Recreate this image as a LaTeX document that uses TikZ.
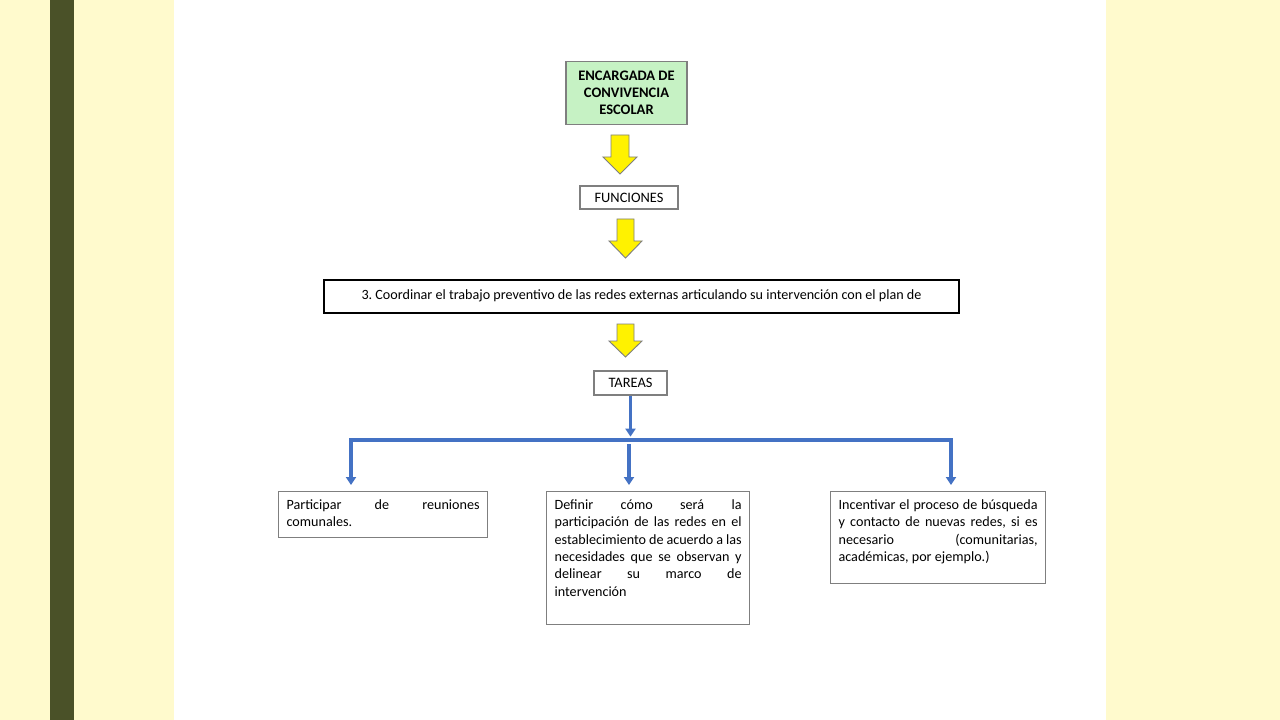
\documentclass[tikz,border=0pt]{standalone}
\usepackage{fontspec}
\setmainfont{Carlito}
\usetikzlibrary{arrows.meta}
\definecolor{bgyel}{HTML}{FFFACD}
\definecolor{olive}{HTML}{4A5128}
\definecolor{boxgreen}{HTML}{C6F2C4}
\definecolor{myblue}{HTML}{4472C4}
\definecolor{bordergray}{HTML}{7F7F7F}
\newcommand{\taskpar}[3]{\parbox[c][#2][t]{#1}{\frenchspacing\hyphenpenalty=10000 #3}}
\tikzset{
  px/.style={x=0.75pt,y=-0.75pt},
  plainbox/.style={draw=bordergray, line width=0.9pt, fill=white, inner sep=0pt, font=\fontsize{10.8}{13}\selectfont},
  taskbox/.style={draw=bordergray, line width=0.9pt, fill=white, anchor=north west, inner xsep=6pt, inner ysep=6pt,
     font=\fontsize{10.6}{13}\selectfont},
  yarrow/.style={fill=yellow, draw=bordergray, line width=0.7pt, line join=miter},
  bline/.style={draw=myblue, line width=2.3pt},
  barrow/.style={draw=myblue, line width=2.3pt, -{Triangle[width=7.5pt,length=6pt]}},
}
\begin{document}
\begin{tikzpicture}[px]
\useasboundingbox (0,0) rectangle (1280,720);
\fill[bgyel] (0,0) rectangle (1280,720);
\fill[olive] (50,0) rectangle (74,720);
\fill[white] (174,0) rectangle (1106,720);

% green box
\node[plainbox, fill=boxgreen, minimum width={121*0.75pt}, minimum height={63*0.75pt}, align=center,
  font=\bfseries\fontsize{10.9}{12.8}\selectfont] (enc) at (626.5,93) {ENCARGADA DE\\CONVIVENCIA\\ESCOLAR};

% arrow 1
\draw[yarrow] (611,135) -- (629,135) -- (629,157) -- (637,157) -- (620,174) -- (603,157) -- (611,157) -- cycle;

\node[plainbox, minimum width={98*0.75pt}, minimum height={23*0.75pt}] (fun) at (629,197.5) {FUNCIONES};

% arrow 2
\draw[yarrow] (617,219) -- (634,219) -- (634,241) -- (642,241) -- (625.5,258) -- (609,241) -- (617,241) -- cycle;

\node[draw=black, line width=2.2pt, fill=white, minimum width={635*0.75pt}, minimum height={33*0.75pt}, inner sep=0pt,
  font=\frenchspacing\fontsize{10.6}{13}\selectfont] (coord) at (641.5,296.5) {\raisebox{3pt}{3. Coordinar el trabajo preventivo de las redes externas articulando su intervención con el plan de}};

% arrow 3
\draw[yarrow] (617,324) -- (634,324) -- (634,341) -- (642,341) -- (625.5,357) -- (609,341) -- (617,341) -- cycle;

\node[plainbox, minimum width={73*0.75pt}, minimum height={24*0.75pt}] (tar) at (630.5,383) {TAREAS};

% task boxes
\node[taskbox] (t1) at (278,491)
  {\taskpar{144.75pt}{22.5pt}{Participar de reuniones\linebreak comunales.}};
\node[taskbox] (t2) at (546,491)
  {\taskpar{140.25pt}{87.75pt}{Definir cómo será la\linebreak participación de las redes en el\linebreak establecimiento de acuerdo a las\linebreak necesidades que se observan y\linebreak delinear su marco de\linebreak intervención}};
\node[taskbox] (t3) at (830,491)
  {\taskpar{149.25pt}{57pt}{Incentivar el proceso de búsqueda\linebreak y contacto de nuevas redes, si es\linebreak necesario (comunitarias,\linebreak académicas, por ejemplo.)}};

% blue connectors
\coordinate (hl) at (351,440);
\coordinate (hr) at (951,440);
\coordinate (mt) at (629,444);
\draw[barrow] (tar.south) -- ++(0,41);
\draw[bline] ([xshift=-1.15pt]hl) -- ([xshift=1.15pt]hr);
\draw[barrow] (hl) -- ([yshift=4.5pt]t1.north -| hl);
\draw[barrow] (mt) -- ([yshift=4.5pt]t2.north -| mt);
\draw[barrow] (hr) -- ([yshift=4.5pt]t3.north -| hr);
\end{tikzpicture}
\end{document}
